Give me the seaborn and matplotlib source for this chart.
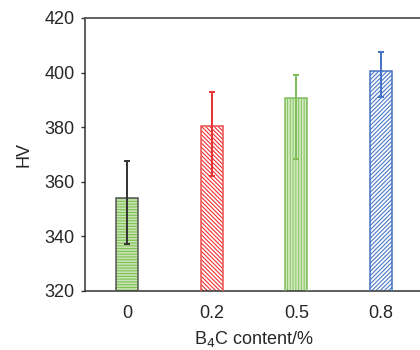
import matplotlib
matplotlib.use("Agg")
import matplotlib.pyplot as plt
from matplotlib.patches import Rectangle
import seaborn as sns
import pandas as pd

categories = ["0", "0.2", "0.5", "0.8"]
hv_values = [354.1, 380.6, 390.6, 400.4]
err_upper = [13.6, 12.3, 8.5, 7.3]
err_lower = [16.9, 18.4, 22.1, 9.5]
y_ticks = [320, 340, 360, 380, 400, 420]

face_colors = ["#c9e3b5", "#ffffff", "#d3eabf", "#ffffff"]
hatch_colors = ["#7cc24f", "#f03030", "#8cc86a", "#4a78c8"]
edge_colors = ["#555555", "#f05050", "#80bb60", "#4472c4"]
err_colors = ["#333333", "#e83030", "#7cbc58", "#4472c4"]
hatches = ["------", "\\" * 8, "||||||", "/" * 8]

sns.set_theme(style="white")
plt.rcParams["font.family"] = ["Liberation Sans", "DejaVu Sans"]
plt.rcParams["hatch.linewidth"] = 0.8

df = pd.DataFrame({"content": categories, "HV": hv_values})

fig = plt.figure(figsize=(4.2, 3.5), dpi=100)
ax = fig.add_axes([0.2012, 0.1686, 0.807, 0.78])

sns.barplot(data=df, x="content", y="HV", hue="content", palette=face_colors,
            legend=False, width=0.26, ax=ax, errorbar=None, saturation=1)

for i, p in enumerate(ax.patches[:len(categories)]):
    p.set_facecolor(face_colors[i])
    p.set_edgecolor(hatch_colors[i])
    p.set_hatch(hatches[i])
    p.set_linewidth(0)
    ax.add_patch(Rectangle(p.get_xy(), p.get_width(), p.get_height(),
                           fill=False, edgecolor=edge_colors[i], linewidth=1.1, zorder=3))

for i in range(len(categories)):
    ax.errorbar(i, hv_values[i], yerr=[[err_lower[i]], [err_upper[i]]],
                fmt="none", ecolor=err_colors[i], elinewidth=1.4, capsize=2.5,
                capthick=1.4, zorder=4)

ax.set_ylim(320, 420)
ax.set_xlim(-0.5, 3.5)
ax.set_yticks(y_ticks)
ax.set_yticklabels([str(t) for t in y_ticks])
ax.set_xlabel("B$_4$C content/%", fontsize=13, labelpad=5)
ax.set_ylabel("HV", fontsize=13, labelpad=9)

ax.tick_params(axis="y", direction="out", length=3, width=1, color="#333333",
               labelsize=13, pad=4, left=True)
ax.tick_params(axis="x", length=0, labelsize=13, pad=10)

for s in ["left", "bottom"]:
    ax.spines[s].set_color("#333333")
    ax.spines[s].set_linewidth(1.1)
ax.spines["top"].set_color("#555555")
ax.spines["top"].set_linewidth(1.3)
ax.spines["right"].set_visible(False)

fig.savefig("out.png", dpi=100)
